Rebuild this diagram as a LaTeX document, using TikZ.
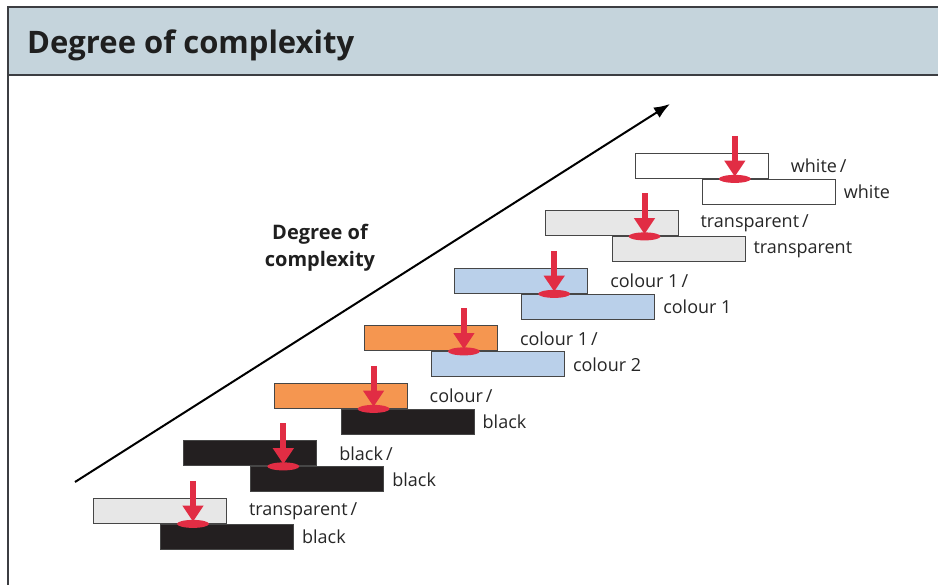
\documentclass[tikz,border=0pt]{standalone}
\usepackage{fontspec}
\setmainfont{Open Sans}
\usetikzlibrary{arrows.meta,positioning,shapes.geometric}
\definecolor{headbg}{RGB}{197,212,220}
\definecolor{frameline}{RGB}{60,62,66}
\definecolor{barline}{RGB}{70,70,70}
\definecolor{greybar}{RGB}{231,231,231}
\definecolor{blackbar}{RGB}{35,31,32}
\definecolor{orangebar}{RGB}{245,150,80}
\definecolor{bluebar}{RGB}{186,208,234}
\definecolor{whitebar}{RGB}{255,255,255}
\definecolor{pinred}{RGB}{225,45,68}
\tikzset{%
  bar/.style={draw=barline, line width=0.9pt, fill=#1, minimum width=133pt,
    minimum height=25pt, inner sep=0pt, anchor=north west},
  bar label/.style={inner sep=0pt, anchor=west, text=black!85,
    font=\fontsize{18}{21}\selectfont},
  pin arrow/.style={draw=pinred, line width=6pt,
    -{Triangle[width=20pt,length=16pt]}},
  pin spot/.style={ellipse, fill=pinred, minimum width=32pt, minimum height=8pt,
    inner sep=0pt},
}
\begin{document}
\begin{tikzpicture}[x=1pt,y=-1pt]
  \useasboundingbox (0,0) rectangle (938,585);
  % heading band
  \fill[headbg] (8,7) rectangle (940,75);
  \draw[frameline, line width=2pt] (940,7) -- (8,7) -- (8,587);
  \draw[frameline, line width=2pt] (8,75) -- (940,75);
  \node[anchor=west, inner sep=0pt, text=black!88,
    font=\fontsize{31}{36}\selectfont\bfseries] (title) at (27,45)
    {Degree of complexity};
  % rising arrow
  \coordinate (low) at (75,482);
  \coordinate (high) at (670,104);
  \draw[line width=2pt, -{Latex[length=16pt,width=12pt]}] (low) -- (high);
  \node[align=center, inner sep=0pt, text=black!88,
    font=\fontsize{20}{27}\selectfont\bfseries] (axis) at (320,248)
    {Degree of\\complexity};
  % pairs of layers, from bottom to top
  \foreach \i/\ftop/\fbot/\ltop/\lbot in {%
      0/greybar/blackbar/transparent/black,
      1/blackbar/blackbar/black/black,
      2/orangebar/blackbar/colour/black,
      3/orangebar/bluebar/colour 1/colour 2,
      4/bluebar/bluebar/colour 1/colour 1,
      5/greybar/greybar/transparent/transparent,
      6/whitebar/whitebar/white/white} {
    \pgfmathsetmacro{\bx}{93+90.3*\i}% left of upper layer
    \pgfmathsetmacro{\by}{498-57.5*\i}% top of upper layer
    \node[bar=\ftop] (top\i) at (\bx,\by) {};
    \node[bar=\fbot] (bot\i) at ([xshift=67pt]top\i.south west) {};
    \node[pin spot] (spot\i) at ([xshift=100pt]top\i.south west) {};
    \coordinate (tail\i) at ([yshift=43pt]spot\i.center);
    \draw[pin arrow] (tail\i) -- ([yshift=-2pt]spot\i.north);
    \node[bar label] (ltop\i) at ([xshift=22pt]top\i.east) {\ltop\,/};
    \node[bar label] (lbot\i) at ([xshift=8pt]bot\i.east) {\lbot};
  }
\end{tikzpicture}
\end{document}
